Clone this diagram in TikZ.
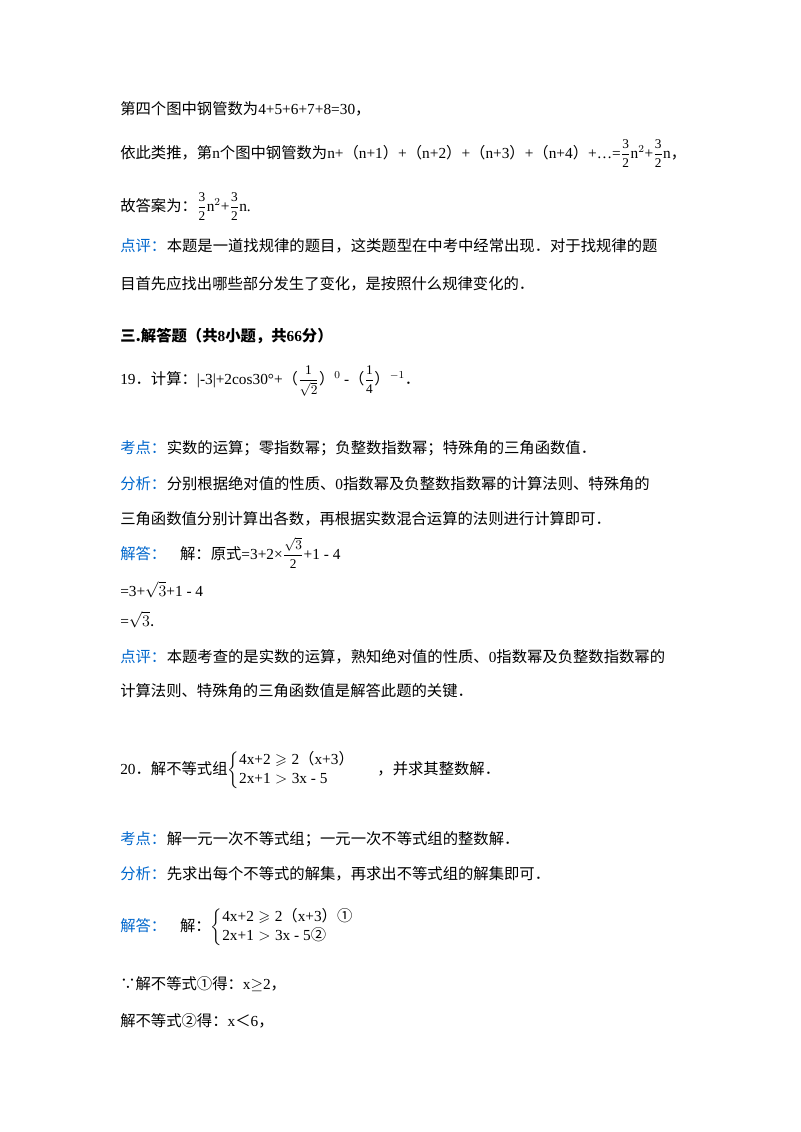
\documentclass[tikz,border=0pt]{standalone}
\usepackage{amssymb}
\usepackage{fontspec}
\setmainfont{Noto Sans CJK SC}
\newfontfamily\lat{Liberation Serif}
\newcommand{\fr}[2]{{\fontsize{10}{10}\selectfont$\displaystyle\frac{\mbox{\lat #1}}{\mbox{\lat #2}}$}}
\newcommand{\cj}[1]{\mbox{\normalfont #1}}
\definecolor{kb}{RGB}{0,102,204}
\begin{document}
\begin{tikzpicture}[x=0.75pt,y=-0.75pt,
  ln/.style={anchor=base west,inner sep=0pt,font=\fontsize{11.5}{14}\selectfont},
  bl/.style={ln,text=kb}]
\useasboundingbox (0,0) rectangle (800,1132);
\node[ln] (l1) at (120,114) {第四个图中钢管数为{\lat 4+5+6+7+8=30}，};
\node[ln] (l2) at (120,158) {依此类推，第{\lat n}个图中钢管数为{\lat n+}（{\lat n+1}）{\lat +}（{\lat n+2}）{\lat +}（{\lat n+3}）{\lat +}（{\lat n+4}）{\lat +…=}\fr{3}{2}{\lat n$^2$+}\fr{3}{2}{\lat n}，};
\node[ln] (l3) at (120,211) {故答案为：\fr{3}{2}{\lat n$^2$+}\fr{3}{2}{\lat n.}};
\node[bl] (l4a) at (120,251) {点评：};
\node[ln,anchor=base west] (l4) at (l4a.base east) {本题是一道找规律的题目，这类题型在中考中经常出现．对于找规律的题};
\node[ln] (l5) at (120,289) {目首先应找出哪些部分发生了变化，是按照什么规律变化的．};
\node[ln,font=\fontsize{11.5}{14}\selectfont\bfseries] (l6) at (120,341) {三.解答题（共{\lat\bfseries 8}小题，共{\lat\bfseries 66}分）};
\node[ln] (l7) at (120,384) {{\lat 19}．计算：{\lat |-3|+2cos30°+}（\fr{1}{$\sqrt{2}$}）$^{0}$ {\lat -}（\fr{1}{4}）$^{-1}$．};
\node[bl] (l8a) at (120,453) {考点：};
\node[ln] (l8) at (l8a.base east) {实数的运算；零指数幂；负整数指数幂；特殊角的三角函数值．};
\node[bl] (l9a) at (120,489) {分析：};
\node[ln] (l9) at (l9a.base east) {分别根据绝对值的性质、{\lat 0}指数幂及负整数指数幂的计算法则、特殊角的};
\node[ln] (l10) at (120,524) {三角函数值分别计算出各数，再根据实数混合运算的法则进行计算即可．};
\node[bl] (l11a) at (120,559) {解答：};
\node[ln] (l11) at ([xshift=10pt]l11a.base east) {解：原式{\lat =3+2×}\fr{$\sqrt{3}$}{2}{\lat +1 - 4}};
\node[ln] (l12) at (120,596) {{\lat =3+}$\sqrt{3}${\lat +1 - 4}};
\node[ln] (l13) at (120,626) {{\lat =}$\sqrt{3}$.};
\node[bl] (l14a) at (120,662) {点评：};
\node[ln] (l14) at (l14a.base east) {本题考查的是实数的运算，熟知绝对值的性质、{\lat 0}指数幂及负整数指数幂的};
\node[ln] (l15) at (120,696) {计算法则、特殊角的三角函数值是解答此题的关键．};
\node[ln] (l16) at (120,774) {{\lat 20}．解不等式组$\left\{\begin{array}{@{}l}\mbox{\lat 4x+2}\geqslant\mbox{\lat 2}\cj{（}\mbox{\lat x+3}\cj{）}\\ \mbox{\lat 2x+1}>\mbox{\lat 3x - 5}\end{array}\right.$\quad ，并求其整数解．};
\node[bl] (l17a) at (120,844) {考点：};
\node[ln] (l17) at (l17a.base east) {解一元一次不等式组；一元一次不等式组的整数解．};
\node[bl] (l18a) at (120,879) {分析：};
\node[ln] (l18) at (l18a.base east) {先求出每个不等式的解集，再求出不等式组的解集即可．};
\node[bl] (l19a) at (120,931) {解答：};
\node[ln] (l19) at ([xshift=10pt]l19a.base east) {解：$\left\{\begin{array}{@{}l}\mbox{\lat 4x+2}\geqslant\mbox{\lat 2}\cj{（}\mbox{\lat x+3}\cj{）①}\\ \mbox{\lat 2x+1}>\mbox{\lat 3x - 5}\cj{②}\end{array}\right.$};
\node[ln] (l20) at (120,989) {∵解不等式①得：{\lat x}$\geq${\lat 2}，};
\node[ln] (l21) at (120,1026) {解不等式②得：{\lat x}＜{\lat 6}，};
\end{tikzpicture}
\end{document}
